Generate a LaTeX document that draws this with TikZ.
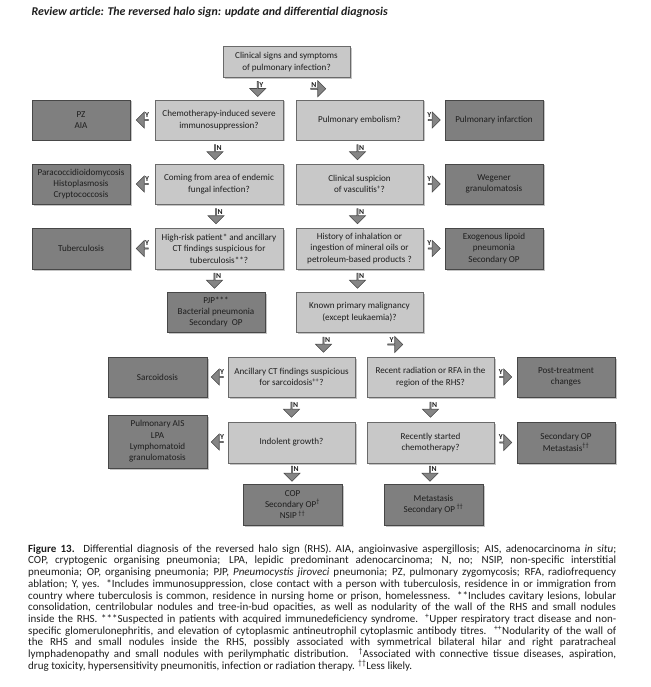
\documentclass[tikz,border=0pt]{standalone}
\usepackage{fontspec}
\setmainfont{Carlito}
\usepackage{xcolor}
\usepackage{tikz}
\usetikzlibrary{shapes.arrows,shadows,calc}
\definecolor{ink}{HTML}{1E1E1E}
\definecolor{qfill}{HTML}{C8C8C8}
\definecolor{qline}{HTML}{6A6A6A}
\definecolor{dfill}{HTML}{7F7F7F}
\definecolor{dline}{HTML}{474747}
\definecolor{arrfill}{HTML}{858585}
\definecolor{arrline}{HTML}{4A4A4A}
\tikzset{
  qbox/.style={draw=qline, fill=qfill, line width=0.8pt, align=center, inner sep=1pt,
        text=ink, font=\fontsize{9.1}{11.4}\selectfont,
        drop shadow={shadow xshift=1.5pt, shadow yshift=-1.5pt, fill=black!45}},
  dbox/.style={qbox, draw=dline, fill=dfill},
  blk/.style={single arrow, draw=arrline, fill=arrfill, line width=0.6pt, inner sep=0pt,
        minimum height=15pt, minimum width=16pt, single arrow head extend=4pt},
  darr/.style={blk, shape border rotate=270},
  larr/.style={blk, shape border rotate=180, minimum height=12pt},
  rarr/.style={blk, shape border rotate=0, minimum height=12pt},
  dlarr/.style={blk, shape border rotate=225},
  drarr/.style={blk, shape border rotate=315},
  yn/.style={font=\bfseries\fontsize{7.6}{8}\selectfont, text=ink, inner sep=0.5pt},
}

\begin{document}
\begin{tikzpicture}[x=1pt, y=-1pt]
  \path[use as bounding box, fill=white] (0,0) rectangle (650,687);

  \node[anchor=west, text=ink, font=\bfseries\itshape\fontsize{11.9}{13}\selectfont] (title) at (28,12)
    {Review article: The reversed halo sign: update and differential diagnosis};

  % question boxes and outcomes
  \node[qbox, minimum width=127pt, minimum height=31pt] (infect) at (286.5,62) {Clinical signs and symptoms\\of pulmonary infection?};

  \node[dbox, minimum width=98pt, minimum height=40pt] (pz) at (81,120) {PZ\\AIA};
  \node[qbox, minimum width=128pt, minimum height=40pt] (chemo) at (219,120) {Chemotherapy-induced severe\\immunosuppression?};
  \node[qbox, minimum width=127pt, minimum height=40pt] (embol) at (359.5,120) {Pulmonary embolism?};
  \node[dbox, minimum width=98pt, minimum height=40pt] (infarct) at (494,120) {Pulmonary infarction};

  \node[dbox, minimum width=98pt, minimum height=40pt] (fungi) at (81,184) {Paracoccidioidomycosis\\Histoplasmosis\\Cryptococcosis};
  \node[qbox, minimum width=128pt, minimum height=40pt] (endemic) at (219,184) {Coming from area of endemic\\fungal infection?};
  \node[qbox, minimum width=127pt, minimum height=40pt] (vascq) at (359.5,184) {Clinical suspicion\\of vasculitis\textsuperscript{+}?};
  \node[dbox, minimum width=98pt, minimum height=40pt] (wegener) at (494,184) {Wegener\\granulomatosis};

  \node[dbox, minimum width=98pt, minimum height=41pt] (tb) at (81,248.5) {Tuberculosis};
  \node[qbox, minimum width=128pt, minimum height=41pt] (tbq) at (219,248.5) {High-risk patient* and ancillary\\CT findings suspicious for\\tuberculosis**?};
  \node[qbox, minimum width=127pt, minimum height=41pt] (oilq) at (359.5,248.5) {History of inhalation or\\ingestion of mineral oils or\\petroleum-based products ?};
  \node[dbox, minimum width=98pt, minimum height=41pt] (lipoid) at (494,248.5) {Exogenous lipoid\\pneumonia\\Secondary OP};

  \node[dbox, minimum width=98pt, minimum height=40pt] (pjp) at (216,312) {PJP***\\Bacterial pneumonia\\Secondary\ \ OP};
  \node[qbox, minimum width=127pt, minimum height=40pt] (malig) at (359.5,312) {Known primary malignancy\\(except leukaemia)?};

  \node[dbox, minimum width=99pt, minimum height=40pt] (sarc) at (157.5,377) {Sarcoidosis};
  \node[qbox, minimum width=127pt, minimum height=40pt] (sarcq) at (291.5,377) {Ancillary CT findings suspicious\\for sarcoidosis\textsuperscript{++}?};
  \node[qbox, minimum width=127pt, minimum height=40pt] (radq) at (430.5,377) {Recent radiation or RFA in the\\region of the RHS?};
  \node[dbox, minimum width=98pt, minimum height=40pt] (posttx) at (566,377) {Post-treatment\\changes};

  \node[dbox, minimum width=99pt, minimum height=53pt] (ais) at (157.5,441.5) {Pulmonary AIS\\LPA\\Lymphomatoid\\granulomatosis};
  \node[qbox, minimum width=127pt, minimum height=41pt] (indolent) at (291.5,442.5) {Indolent growth?};
  \node[qbox, minimum width=127pt, minimum height=41pt] (recent) at (430.5,442.5) {Recently started\\chemotherapy?};
  \node[dbox, minimum width=98pt, minimum height=41pt] (secop) at (566,442.5) {Secondary OP\\Metastasis\textsuperscript{\textdagger\textdagger}};

  \node[dbox, minimum width=99pt, minimum height=41pt] (cop) at (292.5,504.5) {COP\\Secondary OP\textsuperscript{\textdagger}\\NSIP\,\textsuperscript{\textdagger\textdagger}};
  \node[dbox, minimum width=99pt, minimum height=41pt] (meta) at (433.5,504.5) {Metastasis\\Secondary OP\,\textsuperscript{\textdagger\textdagger}};

  % block arrows
  \node[dlarr, label={[yn]45:Y}] (a-infect-y) at ($(infect.south)!.5!(chemo.north)+(5,0)$) {};
  \node[drarr, label={[yn]135:N}] (a-infect-n) at ($(infect.south)!.5!(embol.north)+(-5,0)$) {};
  \node[larr, label={[yn]45:Y}] (a-chemo-y) at ($(pz.east)!.5!(chemo.west)$) {};
  \node[rarr, label={[yn]135:Y}] (a-embol-y) at ($(embol.east)!.5!(infarct.west)$) {};
  \node[darr, label={[yn]45:N}] (a-chemo-n) at ($(chemo.south)!.5!(endemic.north)+(-4,0)$) {};
  \node[darr, label={[yn]45:N}] (a-embol-n) at ($(embol.south)!.5!(vascq.north)+(-2,0)$) {};

  \node[larr, label={[yn]45:Y}] (a-endemic-y) at ($(fungi.east)!.5!(endemic.west)$) {};
  \node[rarr, label={[yn]135:Y}] (a-vascq-y) at ($(vascq.east)!.5!(wegener.west)$) {};
  \node[darr, label={[yn]45:N}] (a-endemic-n) at ($(endemic.south)!.5!(tbq.north)+(-3,0)$) {};
  \node[darr, label={[yn]45:N}] (a-vascq-n) at ($(vascq.south)!.5!(oilq.north)+(-2,0)$) {};

  \node[larr, label={[yn]45:Y}] (a-tbq-y) at ($(tb.east)!.5!(tbq.west)$) {};
  \node[rarr, label={[yn]135:Y}] (a-oilq-y) at ($(oilq.east)!.5!(lipoid.west)$) {};
  \node[darr, label={[yn]45:N}] (a-tbq-n) at ($(tbq.south)!.5!(pjp.north)+(-3,0)$) {};
  \node[darr, label={[yn]45:N}] (a-oilq-n) at ($(oilq.south)!.5!(malig.north)+(-2,0)$) {};

  \node[dlarr, label={[yn]45:N}] (a-malig-n) at ($(malig.south)!.5!(sarcq.north)+(-2,0)$) {};
  \node[drarr, label={[yn]135:Y}] (a-malig-y) at ($(malig.south)!.5!(radq.north)$) {};

  \node[larr, label={[yn]45:Y}] (a-sarcq-y) at ($(sarc.east)!.5!(sarcq.west)$) {};
  \node[rarr, label={[yn]135:Y}] (a-radq-y) at ($(radq.east)!.5!(posttx.west)$) {};
  \node[darr, label={[yn]45:N}] (a-sarcq-n) at ($(sarcq.south)!.5!(indolent.north)$) {};
  \node[darr, label={[yn]45:N}] (a-radq-n) at ($(radq.south)!.5!(recent.north)$) {};

  \node[larr, label={[yn]45:Y}] (a-indolent-y) at ($(ais.east)!.5!(indolent.west)$) {};
  \node[rarr, label={[yn]135:Y}] (a-recent-y) at ($(recent.east)!.5!(secop.west)$) {};
  \node[darr, label={[yn]45:N}] (a-indolent-n) at ($(indolent.south)!.5!(cop.north)$) {};
  \node[darr, label={[yn]45:N}] (a-recent-n) at ($(recent.south)!.5!(meta.north)+(-2,0)$) {};

  \node[anchor=north west, text width=588pt, align=justify, inner sep=0pt, text=ink,
        font=\fontsize{11}{11.7}\selectfont] (caption) at (28,544) {%
    \textbf{Figure 13.}\ \ Differential diagnosis of the reversed halo sign (RHS). AIA, angioinvasive aspergillosis; AIS, adenocarcinoma \textit{in situ};\linebreak
    COP, cryptogenic organising pneumonia; LPA, lepidic predominant adenocarcinoma; N, no; NSIP, non-specific interstitial\linebreak
    pneumonia; OP, organising pneumonia; PJP, \textit{Pneumocystis jiroveci} pneumonia; PZ, pulmonary zygomycosis; RFA, radiofrequency\linebreak
    ablation; Y, yes. *Includes immunosuppression, close contact with a person with tuberculosis, residence in or immigration from\linebreak
    country where tuberculosis is common, residence in nursing home or prison, homelessness. **Includes cavitary lesions, lobular\linebreak
    consolidation, centrilobular nodules and tree-in-bud opacities, as well as nodularity of the wall of the RHS and small nodules\linebreak
    inside the RHS. ***Suspected in patients with acquired immunedeficiency syndrome. \textsuperscript{+}Upper respiratory tract disease and non-\linebreak
    specific glomerulonephritis, and elevation of cytoplasmic antineutrophil cytoplasmic antibody titres. \textsuperscript{++}Nodularity of the wall of\linebreak
    the RHS and small nodules inside the RHS, possibly associated with symmetrical bilateral hilar and right paratracheal\linebreak
    lymphadenopathy and small nodules with perilymphatic distribution. \textsuperscript{\textdagger}Associated with connective tissue diseases, aspiration,\linebreak
    drug toxicity, hypersensitivity pneumonitis, infection or radiation therapy. \textsuperscript{\textdagger\textdagger}Less likely.};
\end{tikzpicture}
\end{document}
